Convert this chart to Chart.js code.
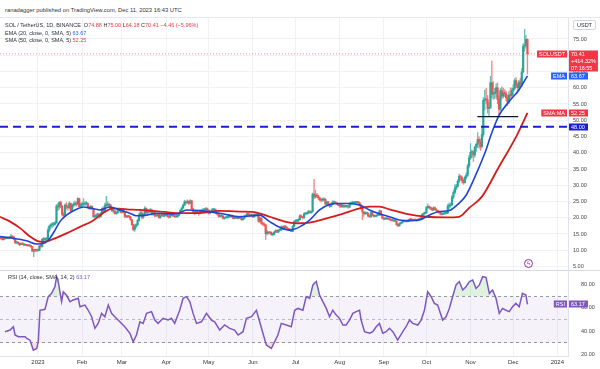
<!DOCTYPE html>
<html>
<head>
<meta charset="utf-8">
<script src="https://cdn.jsdelivr.net/npm/chart.js@4.4.1/dist/chart.umd.min.js"></script>
<style>
  body { margin: 0; background: #fff; font-family: "Liberation Sans", Arial, sans-serif; }
  #wrap { position: relative; width: 600px; height: 369px; overflow: hidden; background: #fff; }
  canvas { position: absolute; left: 0; }
  #price { top: 18px; }
  #rsi { top: 270px; }
  .txt { position: absolute; white-space: nowrap; font-size: 5.5px; color: #2a2e39; line-height: 8px; }
  .red { color: #f23645; }
  .blue { color: #2962ff; }
  .purple { color: #7e57c2; }
</style>
</head>
<body>
<div id="wrap">
  <div class="txt" style="left:5px;top:6px;font-size:5.8px;color:#333">ranadagger published on TradingView.com, Dec 11, 2023 16:43 UTC</div>
  <div style="position:absolute;left:0;top:17px;width:600px;height:1px;background:#e6e8ee"></div>
  <canvas id="price" width="600" height="252"></canvas>
  <canvas id="rsi" width="600" height="99"></canvas>
  <div style="position:absolute;left:0;top:270px;width:600px;height:1px;background:#d6d9e0"></div>
  <div class="txt" style="left:5px;top:21px">SOL / TetherUS, 1D, BINANCE&nbsp; O<span class="red">74.88</span> H<span class="red">75.00</span> L<span class="red">64.18</span> C<span class="red">70.41</span> <span class="red">&minus;4.46 (&minus;5.96%)</span></div>
  <div class="txt" style="left:5px;top:29px">EMA (20, close, 0, SMA, 5) <span class="blue">63.67</span></div>
  <div class="txt" style="left:5px;top:36px">SMA (50, close, 0, SMA, 5) <span class="red">52.25</span></div>
  <div class="txt" style="left:573px;top:20px;border:1px solid #d1d4dc;border-radius:2px;padding:0 3px;line-height:8px">USDT</div>
  <div class="txt" style="left:8px;top:273px">RSI (14, close, SMA, 14, 2) <span class="purple">63.17</span></div>
  <div style="position:absolute;left:524px;top:259px;width:7px;height:7px;border:1px solid #9c27b0;border-radius:50%;font-size:6px;line-height:7px;text-align:center;color:#9c27b0">ϟ</div>
</div>

<script>
// ---- axes ----
const monthDays = [0, 31, 59, 90, 120, 151, 181, 212, 243, 273, 304, 334, 365];
const monthLabels = ['2023', 'Feb', 'Mar', 'Apr', 'May', 'Jun', 'Jul', 'Aug', 'Sep', 'Oct', 'Nov', 'Dec', '2024'];
const priceTicks = [5, 10, 15, 20, 25, 30, 35, 40, 45, 50, 55, 60, 65, 70, 75];
const rsiTicks = [20, 40, 60, 80];
const rsiBands = [70, 50, 30];

// ---- daily candles, 6 Dec 2022 .. 11 Dec 2023 (day 0 = 1 Jan 2023) ----
const firstDay = -26;
const firstOpen = 13.7;
const closes = [
  13.6, 13.3, 13.8, 13.6, 13.8, 13.7, 13.9, 14.3, 14.1, 13.4, 12.3, 12.4, 12.2, 11.7, 12.0, 11.9, 11.6, 11.6, 11.5, 11.4, 11.4, 11.1, 9.7, 10.1, 10.0, 9.97,
  9.98, 11.3, 11.2, 13.4, 13.3, 13.4, 13.4, 16.2, 17.4, 17.8, 17.9, 18.0, 18.4, 23.6, 23.3, 24.7, 23.6, 21.0, 20.7, 23.9, 23.4, 23.1, 24.4, 22.2, 23.9, 24.1, 24.4, 24.2, 25.9, 23.4, 24.0,
  24.1, 24.2, 24.3, 24.4, 23.2, 22.9, 23.5, 22.7, 20.3, 20.4, 20.9, 21.0, 20.3, 21.3, 22.8, 21.8, 23.8, 24.2, 23.8, 23.9, 22.9, 22.1, 22.1, 21.3, 21.5, 22.4, 22.5, 21.7,
  22.3, 21.7, 20.4, 20.3, 20.4, 20.3, 19.4, 17.9, 16.4, 17.4, 17.9, 19.2, 20.9, 21.5, 20.2, 21.0, 22.9, 21.5, 22.2, 21.8, 22.4, 21.0, 21.6, 20.6, 20.7, 21.2, 20.0, 20.7, 21.0, 20.5, 20.8,
  20.9, 20.4, 20.2, 20.8, 21.0, 20.5, 20.3, 20.3, 20.7, 21.3, 22.3, 23.0, 23.9, 24.9, 24.6, 25.0, 24.5, 25.2, 22.7, 21.9, 21.3, 21.9, 21.6, 21.3, 22.1, 22.0, 22.4, 22.4, 22.8, 22.3,
  21.4, 22.0, 22.4, 22.4, 22.4, 21.4, 21.1, 20.4, 20.5, 20.6, 19.8, 20.0, 20.0, 20.1, 20.8, 20.4, 20.6, 19.8, 19.9, 20.3, 19.8, 19.9, 20.4, 19.4, 19.7, 20.5, 20.5, 21.3, 20.7, 20.8, 20.8,
  20.3, 21.0, 20.8, 20.9, 18.9, 19.9, 18.3, 18.0, 17.8, 15.1, 15.6, 15.3, 15.5, 14.8, 14.8, 15.6, 16.1, 15.6, 16.2, 16.2, 17.2, 16.5, 17.4, 16.9, 16.7, 16.2, 16.4, 15.8, 17.3, 18.8,
  19.0, 19.0, 19.4, 20.6, 20.3, 20.0, 21.2, 21.2, 21.4, 21.9, 21.6, 21.9, 27.3, 26.4, 26.9, 26.7, 26.1, 25.5, 25.4, 25.5, 25.7, 24.2, 24.9, 23.9, 23.5, 24.1, 24.7, 24.8, 24.6, 24.3, 23.8,
  24.1, 23.4, 23.8, 23.4, 23.5, 23.5, 23.3, 24.3, 24.4, 24.6, 24.6, 24.7, 24.7, 24.6, 23.9, 22.9, 21.8, 21.2, 21.4, 21.4, 20.5, 20.3, 21.6, 20.8, 20.4, 20.5, 20.8, 20.8, 22.1, 20.9, 19.9,
  19.6, 19.7, 19.8, 19.6, 19.5, 19.2, 19.3, 19.0, 19.0, 17.9, 17.5, 18.2, 18.4, 18.8, 19.0, 18.9, 18.8, 19.0, 19.5, 19.4, 19.2, 19.4, 19.3, 19.1, 19.5, 19.4, 19.9, 21.0, 21.3, 21.5,
  23.2, 23.5, 23.1, 22.9, 22.4, 23.1, 22.6, 22.2, 21.8, 21.6, 21.1, 21.1, 21.3, 21.4, 21.4, 23.6, 23.7, 24.0, 26.4, 27.8, 29.1, 29.7, 31.2, 32.8, 32.3, 31.4, 30.8, 32.4, 33.1, 36.0, 38.4,
  40.1, 40.1, 39.3, 41.7, 42.6, 44.1, 43.3, 41.9, 45.6, 56.1, 56.5, 56.3, 53.6, 53.9, 61.5, 58.0, 58.2, 58.6, 60.0, 56.4, 53.4, 59.1, 57.4, 58.4, 58.2, 56.9, 55.6, 57.8, 57.6, 59.2,
  59.8, 62.2, 60.9, 60.0, 61.8, 60.9, 64.9, 72.8, 73.0, 74.88, 70.41
];
const highs = [
  14.1, 13.8, 13.9, 14.0, 14.0, 14.0, 14.2, 14.9, 14.5, 14.2, 13.5, 12.7, 12.6, 12.3, 12.2, 12.3, 12.1, 11.8, 11.8, 11.7, 11.6, 11.5, 11.2, 10.3, 10.3, 10.4,
  10.2, 11.5, 12.0, 13.6, 14.0, 13.8, 13.9, 16.9, 17.8, 18.2, 18.5, 18.6, 18.9, 24.1, 24.5, 25.0, 25.1, 23.8, 21.6, 24.3, 24.8, 23.9, 25.0, 24.6, 24.2, 24.8, 25.1, 24.9, 26.2, 26.0, 24.5,
  24.8, 25.9, 24.9, 25.0, 24.6, 23.5, 23.8, 23.7, 22.8, 20.9, 21.2, 21.4, 21.2, 21.6, 23.1, 23.4, 24.5, 26.6, 25.0, 24.5, 24.2, 23.2, 22.6, 22.3, 21.8, 22.6, 23.0, 22.7,
  22.6, 22.6, 21.8, 20.7, 20.7, 20.7, 20.4, 19.6, 18.0, 17.8, 18.2, 19.6, 21.4, 22.5, 22.0, 21.3, 23.4, 23.1, 22.7, 22.6, 22.9, 22.7, 22.3, 21.7, 21.0, 21.4, 21.4, 20.9, 21.3, 21.2, 21.0,
  21.1, 21.0, 20.8, 21.1, 21.3, 21.1, 20.7, 20.6, 20.9, 21.6, 22.6, 23.3, 24.2, 25.4, 25.2, 25.5, 25.3, 25.6, 25.3, 22.9, 22.1, 22.1, 22.0, 21.9, 22.4, 22.6, 22.9, 22.8, 23.2, 23.0,
  22.4, 22.2, 22.7, 22.9, 22.8, 22.7, 21.7, 21.2, 20.8, 21.0, 20.7, 20.2, 20.3, 20.4, 21.1, 20.9, 20.8, 20.8, 20.1, 20.5, 20.4, 20.2, 20.6, 20.5, 19.9, 20.7, 20.8, 21.5, 21.5, 21.0, 21.2,
  20.9, 21.3, 21.2, 21.3, 20.9, 20.1, 20.0, 18.6, 18.4, 17.9, 16.2, 15.8, 15.8, 15.7, 15.1, 15.8, 16.3, 16.2, 16.4, 16.5, 17.5, 17.4, 17.7, 17.6, 17.2, 16.8, 16.7, 16.5, 17.6, 19.1,
  19.4, 19.5, 19.7, 21.0, 20.9, 20.5, 21.5, 21.6, 21.7, 22.3, 22.2, 22.2, 27.6, 31.8, 28.5, 27.5, 27.0, 26.3, 25.9, 26.1, 26.2, 25.9, 25.1, 25.0, 24.1, 24.5, 25.2, 25.2, 24.9, 24.7, 24.4,
  24.4, 24.5, 24.1, 24.0, 23.8, 23.8, 23.6, 24.6, 24.9, 25.1, 24.9, 24.9, 25.0, 25.0, 24.8, 24.2, 23.1, 21.9, 21.8, 21.7, 21.5, 20.8, 21.9, 21.7, 21.0, 20.8, 21.0, 21.0, 22.4, 22.2, 21.0,
  20.2, 19.9, 20.0, 20.0, 19.8, 19.7, 19.6, 19.4, 19.3, 19.1, 18.1, 18.5, 18.7, 19.1, 19.3, 19.2, 19.1, 19.3, 19.7, 19.8, 19.6, 19.6, 19.5, 19.4, 19.7, 19.7, 20.2, 21.3, 21.6, 21.8,
  23.5, 24.3, 23.7, 23.3, 23.0, 23.4, 23.3, 22.8, 22.3, 21.9, 21.7, 21.4, 21.6, 21.7, 21.7, 24.2, 24.6, 24.5, 26.9, 28.4, 30.2, 30.3, 31.7, 33.4, 33.1, 32.8, 32.0, 32.8, 33.8, 36.4, 39.2,
  42.8, 40.9, 40.6, 42.0, 43.0, 46.2, 44.9, 44.3, 47.8, 57.0, 59.3, 59.8, 57.6, 55.4, 63.5, 68.2, 61.9, 59.8, 61.2, 61.5, 57.6, 59.8, 60.3, 59.9, 59.4, 58.9, 57.7, 58.9, 59.9, 60.0,
  61.0, 62.8, 63.1, 61.5, 62.3, 62.9, 65.9, 73.6, 78.0, 76.1, 75.0
];
const lows = [
  13.4, 13.1, 13.2, 13.4, 13.5, 13.5, 13.5, 13.8, 13.9, 13.2, 12.0, 12.0, 11.9, 11.4, 11.6, 11.7, 11.3, 11.4, 11.3, 11.2, 11.2, 10.9, 9.6, 8.0, 9.5, 9.6,
  9.6, 9.9, 10.9, 11.0, 12.9, 13.0, 13.0, 13.3, 15.6, 16.8, 17.0, 17.3, 17.7, 18.3, 22.2, 22.6, 23.0, 20.5, 19.8, 20.5, 22.7, 22.3, 22.8, 21.9, 22.0, 23.3, 23.6, 23.6, 24.0, 23.1, 22.9,
  23.2, 23.7, 23.8, 23.9, 23.0, 22.5, 22.6, 22.5, 20.1, 19.9, 20.2, 20.6, 19.8, 20.2, 21.1, 21.5, 21.7, 23.4, 23.5, 23.3, 22.6, 21.9, 21.6, 21.1, 21.0, 21.3, 22.1, 21.5,
  21.4, 21.4, 20.1, 20.0, 20.0, 20.0, 19.2, 17.6, 16.0, 15.8, 16.9, 17.5, 18.9, 20.6, 19.6, 19.7, 20.8, 21.2, 21.3, 21.2, 21.6, 20.8, 20.9, 20.3, 20.3, 20.4, 19.9, 19.8, 20.5, 20.3, 20.3,
  20.6, 20.2, 19.9, 20.0, 20.6, 20.3, 20.1, 20.1, 20.1, 20.5, 21.1, 21.9, 22.8, 23.7, 24.2, 24.4, 24.0, 24.3, 22.4, 21.4, 20.9, 21.1, 21.3, 20.8, 21.2, 21.6, 21.8, 22.0, 22.2, 22.1,
  21.1, 21.2, 21.8, 22.0, 22.0, 21.2, 20.8, 20.2, 20.2, 20.2, 19.6, 19.5, 19.8, 19.9, 20.0, 20.2, 20.1, 19.7, 19.6, 19.8, 19.6, 19.6, 19.8, 19.2, 19.2, 19.6, 20.2, 20.4, 20.5, 20.4, 20.3,
  20.0, 20.1, 20.5, 20.5, 18.6, 18.6, 18.0, 17.6, 17.3, 13.3, 14.6, 15.0, 15.0, 14.6, 14.4, 14.7, 15.4, 15.4, 15.4, 15.9, 16.0, 16.4, 16.4, 16.7, 16.5, 16.0, 16.0, 15.7, 15.7, 17.1,
  18.6, 18.7, 18.8, 19.3, 20.0, 19.6, 19.8, 20.9, 21.0, 21.2, 21.3, 21.3, 21.7, 25.8, 26.0, 26.2, 25.6, 25.2, 24.9, 25.1, 25.2, 24.0, 24.0, 23.7, 23.1, 23.4, 23.9, 24.5, 24.4, 24.0, 23.6,
  23.2, 23.1, 23.2, 23.1, 23.2, 23.2, 22.9, 23.1, 23.9, 24.2, 24.3, 24.4, 24.4, 24.3, 23.6, 22.6, 19.4, 20.4, 21.0, 21.1, 20.3, 20.1, 20.2, 20.6, 20.2, 20.3, 20.3, 20.6, 20.7, 20.6, 19.7,
  19.3, 19.4, 19.5, 19.4, 19.2, 19.0, 19.0, 18.8, 18.8, 17.6, 17.3, 17.4, 18.0, 18.3, 18.6, 18.7, 18.6, 18.7, 18.9, 19.2, 19.0, 19.1, 19.1, 18.9, 19.0, 19.2, 19.3, 19.7, 20.7, 21.1,
  21.3, 22.8, 22.6, 22.5, 22.1, 22.2, 22.4, 21.9, 21.5, 21.2, 20.9, 20.8, 21.0, 21.1, 21.1, 21.3, 22.9, 23.2, 23.7, 25.9, 27.4, 28.6, 29.4, 30.7, 31.6, 30.6, 30.3, 30.6, 31.9, 32.8, 35.3,
  37.9, 38.5, 37.3, 38.6, 40.4, 41.6, 41.4, 40.7, 41.4, 45.0, 53.2, 55.2, 52.2, 51.4, 53.6, 56.9, 56.4, 56.6, 57.0, 55.1, 51.2, 53.0, 56.5, 56.9, 57.3, 56.0, 54.5, 55.2, 56.8, 56.8,
  57.9, 59.3, 60.1, 58.3, 59.2, 60.2, 60.3, 64.6, 71.2, 72.2, 64.18
];

// EMA 20 / SMA 50
const emaDays = [-26.7, -17.5, -8, -1, 5, 8.4, 12, 15.4, 20, 26, 32, 36.5, 43.5, 50.5, 57.5, 64.6, 69, 76.5, 83.5, 90.5, 97.5, 104.5, 113.7, 127.7, 141.8, 155.8, 162.8, 169.8, 176.8, 183.9, 190.9, 197.9, 204.9, 211.9, 219, 226, 233, 240, 247, 254, 261, 268, 275, 282, 289, 296, 301, 308, 315, 318, 324, 331, 338, 344];
const emaValues = [14.2, 13.7, 12.9, 11.9, 12.3, 13.7, 16.2, 18.8, 20.8, 22.4, 23.3, 23.0, 22.4, 23.3, 22.4, 21.4, 20.6, 20.8, 21.4, 21.2, 21.2, 22.4, 22.2, 21.4, 20.3, 20.8, 18.8, 17.1, 16.2, 17.2, 19.3, 22.4, 24.1, 24.4, 24.4, 23.9, 22.4, 21.2, 20.3, 19.3, 19.1, 19.3, 20.8, 21.9, 22.2, 24.5, 27.0, 33.5, 41.0, 45.0, 51.5, 55.7, 59.3, 63.67];
const smaDays = [-26.7, -19.6, -12.6, -5.6, -0.7, 3.5, 10.5, 20, 29.5, 38.6, 45.6, 52.6, 62.5, 71.6, 80.7, 90.5, 99.6, 111.6, 127.7, 141.8, 153.7, 162.8, 172, 181.8, 190.9, 202.8, 214, 226, 233, 240, 247, 259, 273, 287, 296, 303, 312, 324, 336, 344];
const smaValues = [20.3, 18.8, 16.8, 14.2, 12.9, 12.6, 13.4, 15.2, 17.2, 19.1, 21.4, 22.9, 22.6, 22.4, 22.1, 21.7, 21.4, 21.4, 22.1, 21.9, 21.6, 20.3, 19.0, 18.3, 18.5, 19.8, 21.2, 22.9, 23.4, 23.4, 22.6, 21.2, 20.3, 20.1, 20.3, 23.0, 26.5, 35.7, 44.9, 52.25];

// drawn lines
const levelValue = 48.0;
const supportDays = [308.8, 337.5];
const supportValue = 51.1;

// RSI 14
const rsiDays = [-23.2, -19.6, -17.3, -16.1, -13.8, -9.1, -7.9, -5.6, -3.3, -0.9, 0.2, 1.4, 4.9, 7.2, 9.6, 11.9, 13.1, 14.2, 16.6, 17.8, 20.1, 22.5, 24.8, 28.3, 29.5, 33, 35.3, 37.7, 40, 42.3, 44.7, 47, 49.4, 51.7, 54, 57.5, 61, 64.6, 66.9, 69.2, 71.6, 73.9, 76.3, 79.8, 82.1, 84.4, 87.9, 91.4, 93.8, 96.1, 99.6, 102, 104.3, 106.7, 109, 111.4, 114.9, 118.4, 121.9, 124.2, 127.7, 131.2, 134.7, 138.2, 140.6, 144.1, 146.5, 150, 153.5, 155.8, 158.1, 160.5, 164, 166.3, 168.6, 171, 174.5, 178, 180.4, 182.7, 186.2, 188.5, 190.9, 193.2, 195.6, 197.9, 200.2, 202.6, 204.9, 207.2, 209.6, 211.9, 214.3, 216.6, 218.9, 221.3, 223.6, 226, 227.1, 229.5, 233, 235.3, 237.7, 240, 242.3, 244.7, 247, 249.4, 252.8, 256.4, 258.7, 261.1, 263.4, 266.9, 269.3, 271.6, 273.9, 276.3, 278.6, 280.9, 282.1, 284.4, 286.8, 289.1, 291.4, 293.8, 296.1, 298.5, 300.8, 303.2, 305.5, 307.9, 310.2, 312.5, 314.9, 317.2, 319.5, 321.9, 324.2, 326.5, 328.9, 331.2, 333.5, 335.9, 338.2, 340.5, 342.9, 344];
const rsiValues = [39.4, 40.8, 43.7, 36.5, 35, 35, 33.5, 32, 23.4, 24.8, 30.6, 58, 58.8, 69.8, 72.7, 78.5, 87.2, 83, 65.5, 74, 71, 65.5, 67, 68.4, 61, 62.5, 58, 52.4, 42.3, 46.6, 55.3, 52.4, 62.5, 55.3, 52.4, 48, 43.7, 38, 30.6, 36.5, 48, 46.6, 55.3, 56.8, 49.5, 46.6, 51, 49.5, 51, 46.6, 58, 68.4, 69.8, 65.5, 55.3, 46.6, 48, 55.3, 49.5, 48, 40.8, 45.2, 42.3, 40.8, 36.5, 39.4, 51, 52.4, 58, 48, 38, 27.8, 24.8, 30.6, 36.5, 46.6, 45.2, 43.7, 58, 59.6, 58, 69.8, 68.4, 80, 83, 71.3, 65.5, 59.6, 52.4, 58, 53.8, 51, 45.2, 45.2, 49.5, 55.3, 56.8, 58, 49.5, 39.4, 38, 39.4, 43.7, 46.6, 38, 39.4, 42.3, 39.4, 32.1, 39.4, 43.7, 49.5, 46.6, 45.2, 49.5, 58, 74.1, 69.8, 64, 62.5, 58, 49.5, 52.4, 59.6, 69.8, 80, 83, 75.6, 78.5, 83, 84.3, 77, 80, 87.2, 86.6, 72.7, 75.6, 68.4, 55.3, 59.6, 58, 56.8, 61, 64, 61, 72.7, 71.3, 63.17];

// ---- build ----
const xMin = -26.7, xMax = 372.5;
const days = closes.map((c, i) => firstDay + i);
const opens = closes.map((c, i) => i === 0 ? firstOpen : closes[i - 1]);
const isUp = closes.map((c, i) => c >= opens[i]);
const lastClose = closes[closes.length - 1];
const xy = (xs, ys) => xs.map((x, i) => ({ x: x, y: ys[i] }));
const flat = (v) => [{ x: xMin, y: v }, { x: xMax, y: v }];

const gridColor = '#f0f2f6';
const axisColor = '#e0e3eb';
const tickFont = { family: '"Liberation Sans", Arial, sans-serif', size: 5.5 };

function fixAxis(width, height) {
  return s => {
    if (width !== null) s.width = width;
    if (height !== null) s.height = height;
    s.paddingTop = 0; s.paddingBottom = 0; s.paddingLeft = 0; s.paddingRight = 0;
  };
}

function drawTag(chart, value, name, lines, color) {
  const ctx = chart.ctx, area = chart.chartArea;
  const y = Math.round(chart.scales.y.getPixelForValue(value));
  const lh = 7;
  ctx.save();
  ctx.font = '5.5px "Liberation Sans", Arial, sans-serif';
  ctx.textBaseline = 'middle';
  const w = Math.max(19, ...lines.map(t => ctx.measureText(t).width + 4));
  ctx.fillStyle = color;
  ctx.fillRect(area.right + 1, y - 3.5, w, lines.length * lh);
  ctx.fillStyle = '#fff';
  lines.forEach((t, k) => ctx.fillText(t, area.right + 3, y + k * lh + 0.5));
  if (name) {
    const nw = ctx.measureText(name).width + 4;
    ctx.fillStyle = color;
    ctx.fillRect(area.right - 1 - nw, y - 3.5, nw, lh);
    ctx.fillStyle = '#fff';
    ctx.fillText(name, area.right + 1 - nw, y + 0.5);
  }
  ctx.restore();
}

// ---- price pane ----
new Chart(document.getElementById('price'), {
  type: 'bar',
  data: {
    datasets: [
      { type: 'line', data: flat(levelValue), borderColor: '#1a1fcf', borderWidth: 2, borderDash: [8, 5], pointRadius: 0, order: 0 },
      { type: 'line', data: supportDays.map(d => ({ x: d, y: supportValue })), borderColor: '#0b1736', borderWidth: 1.3, pointRadius: 0, order: 0 },
      { type: 'line', data: xy(emaDays, emaValues), borderColor: '#1f45d6', borderWidth: 1.6, pointRadius: 0, cubicInterpolationMode: 'monotone', order: 1 },
      { type: 'line', data: xy(smaDays, smaValues), borderColor: '#d41c1c', borderWidth: 1.8, pointRadius: 0, cubicInterpolationMode: 'monotone', order: 1 },
      { type: 'line', data: flat(lastClose), borderColor: 'rgba(242,54,69,0.55)', borderWidth: 1, borderDash: [1, 2], pointRadius: 0, order: 2 },
      {
        data: days.map((d, i) => ({ x: d, y: [opens[i], closes[i]] })),
        backgroundColor: isUp.map(u => u ? '#26a69a' : '#ef5350'),
        barThickness: 1.5, minBarLength: 1, grouped: false, order: 3
      },
      {
        data: days.map((d, i) => ({ x: d, y: [lows[i], highs[i]] })),
        backgroundColor: isUp.map(u => u ? 'rgba(38,166,154,0.7)' : 'rgba(239,83,80,0.7)'),
        barThickness: 0.7, grouped: false, order: 4
      }
    ]
  },
  options: {
    responsive: false,
    animation: false,
    layout: { padding: 0 },
    plugins: { legend: { display: false }, tooltip: { enabled: false } },
    scales: {
      x: {
        type: 'linear', min: xMin, max: xMax, offset: false,
        grid: { color: gridColor, drawTicks: false, offset: false },
        border: { display: false },
        ticks: { display: false },
        afterBuildTicks: s => { s.ticks = monthDays.map(v => ({ value: v })); },
        afterFit: fixAxis(null, 0)
      },
      y: {
        position: 'right', min: 3.92, max: 81.46, beginAtZero: false,
        grid: { color: gridColor, drawTicks: false },
        border: { display: true, color: axisColor },
        ticks: { font: tickFont, color: '#444', padding: 5, callback: v => v.toFixed(2) },
        afterBuildTicks: s => { s.ticks = priceTicks.map(v => ({ value: v })); },
        afterFit: fixAxis(32, null)
      }
    }
  },
  plugins: [{
    id: 'priceTags',
    afterDraw(chart) {
      drawTag(chart, levelValue, null, ['48.00'], '#1a1fd6');
      drawTag(chart, smaValues[smaValues.length - 1], 'SMA:MA', ['52.25'], '#f23645');
      drawTag(chart, emaValues[emaValues.length - 1], 'EMA', ['63.67'], '#2962ff');
      drawTag(chart, lastClose, 'SOLUSDT', ['70.41', '+414.32%', '07:16:55'], '#f23645');
    }
  }]
});

// ---- RSI pane ----
const rsiPts = xy(rsiDays, rsiValues);
new Chart(document.getElementById('rsi'), {
  type: 'line',
  data: {
    datasets: [
      {
        data: rsiPts, borderColor: '#7e57c2', borderWidth: 1.5, pointRadius: 0, order: 0,
        fill: { target: { value: rsiBands[0] }, above: 'rgba(76,175,80,0.18)', below: 'rgba(0,0,0,0)' }
      },
      {
        data: rsiPts, borderColor: 'rgba(0,0,0,0)', borderWidth: 0, pointRadius: 0, order: 1,
        fill: { target: { value: rsiBands[2] }, above: 'rgba(0,0,0,0)', below: 'rgba(242,54,69,0.18)' }
      },
      { data: flat(rsiBands[0]), borderColor: '#9598a1', borderWidth: 1, borderDash: [3, 3], pointRadius: 0, fill: 4, backgroundColor: 'rgba(126,87,194,0.08)', order: 2 },
      { data: flat(rsiBands[1]), borderColor: 'rgba(149,152,161,0.6)', borderWidth: 1, borderDash: [3, 3], pointRadius: 0, fill: false, order: 2 },
      { data: flat(rsiBands[2]), borderColor: '#9598a1', borderWidth: 1, borderDash: [3, 3], pointRadius: 0, fill: false, order: 2 }
    ]
  },
  options: {
    responsive: false,
    animation: false,
    layout: { padding: 0 },
    plugins: { legend: { display: false }, tooltip: { enabled: false }, filler: { propagate: false } },
    scales: {
      x: {
        type: 'linear', min: xMin, max: xMax,
        grid: { color: gridColor, drawTicks: false },
        border: { display: true, color: axisColor },
        ticks: { font: { family: '"Liberation Sans", Arial, sans-serif', size: 6 }, color: '#333', padding: 3, autoSkip: false, maxRotation: 0,
                 callback: (v, i) => monthLabels[i] },
        afterBuildTicks: s => { s.ticks = monthDays.map(v => ({ value: v })); },
        afterFit: fixAxis(null, 13)
      },
      y: {
        position: 'right', min: 18.26, max: 93.0,
        grid: { display: false },
        border: { display: true, color: axisColor },
        ticks: { font: tickFont, color: '#444', padding: 5, callback: v => v.toFixed(2) },
        afterBuildTicks: s => { s.ticks = rsiTicks.map(v => ({ value: v })); },
        afterFit: fixAxis(32, null)
      }
    }
  },
  plugins: [{
    id: 'rsiTag',
    afterDraw(chart) {
      drawTag(chart, rsiValues[rsiValues.length - 1], 'RSI', ['63.17'], '#7e57c2');
    }
  }]
});
</script>
</body>
</html>
